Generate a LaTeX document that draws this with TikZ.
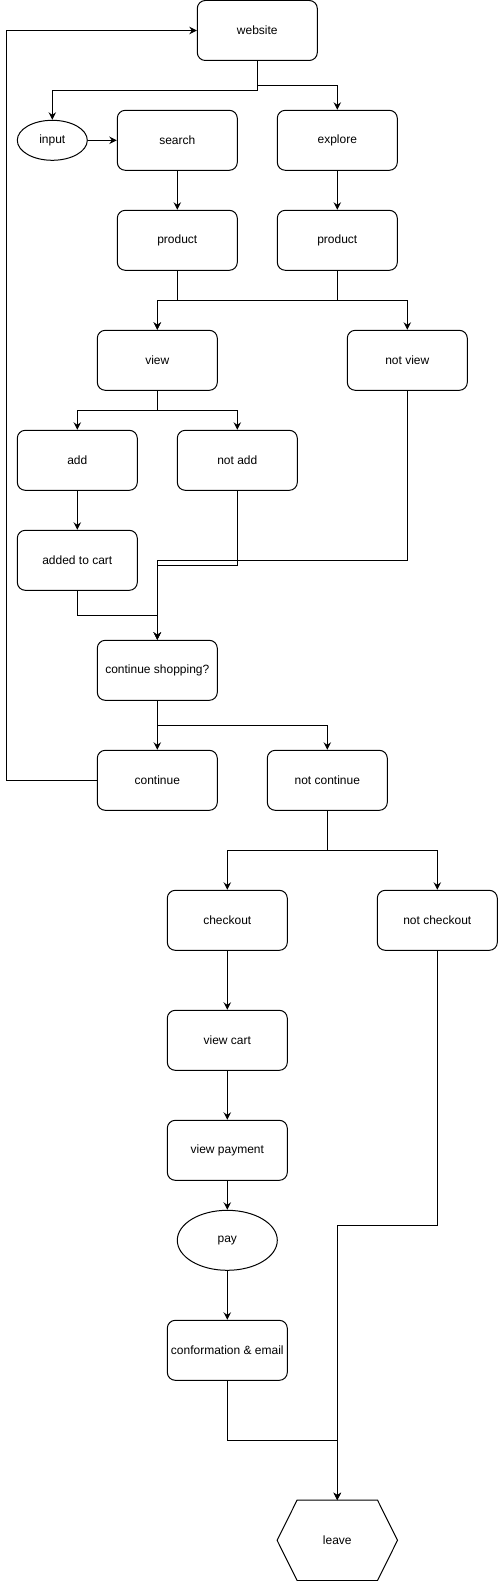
\documentclass[tikz,border=0pt]{standalone}
\usepackage{fontspec}
\setmainfont{Liberation Sans}
\usetikzlibrary{shapes.geometric,arrows.meta,calc}
\tikzset{
  box/.style={draw, line width=1pt, rounded corners=8pt, minimum width=120pt, minimum height=60pt, inner sep=0pt, font=\fontsize{12}{14}\selectfont},
  oval/.style={draw, line width=1pt, ellipse, inner sep=0pt, font=\fontsize{12}{14}\selectfont},
  plain/.style={minimum width=120pt, minimum height=80pt, inner sep=0pt, font=\fontsize{12}{14}\selectfont},
  arr/.style={line width=1pt, -{Stealth[length=7.5pt,width=7.5pt,inset=2.5pt]}},
  ln/.style={line width=1pt}
}
\begin{document}
\begin{tikzpicture}[x=1pt,y=-1pt]
\useasboundingbox (0,0) rectangle (499,1581);
\node[box] (website) at (257.3,30.5) {website};
\node[oval, minimum width=70pt, minimum height=40pt] (input) at (52.3,140.3) {input};
\node[box] (search) at (177.3,140.3) {search};
\node[box] (explore) at (337.3,140.3) {explore};
\node[box] (prod1) at (177.3,240.3) {product};
\node[box] (prod2) at (337.3,240.3) {product};
\node[box] (view) at (157.3,360.3) {view};
\node[box] (notview) at (407.3,360.3) {not view};
\node[box] (add) at (77.3,460.3) {add};
\node[box] (notadd) at (237.3,460.3) {not add};
\node[box] (cart) at (77.3,560.3) {added to cart};
\node[box] (cs) at (157.3,670.3) {continue shopping?};
\node[box] (cont) at (157.3,780.3) {continue};
\node[box] (notcont) at (327.3,780.3) {not continue};
\node[box] (checkout) at (227.3,920.3) {checkout};
\node[box] (notcheckout) at (437.3,920.3) {not checkout};
\node[box] (viewcart) at (227.3,1040.3) {view cart};
\node[box] (viewpay) at (227.3,1150.3) {view payment};
\node[oval, minimum width=100pt, minimum height=60pt] (pay) at (227.3,1240.3) {pay};
\node[box] (conf) at (227.3,1350.3) {conformation \& email};
\node[plain] (leave) at (337.3,1540.3) {leave};
\draw[ln] ($(leave.north west)+(20,0)$) -- ($(leave.north east)+(-20,0)$) -- (leave.east) -- ($(leave.south east)+(-20,0)$) -- ($(leave.south west)+(20,0)$) -- (leave.west) -- cycle;

\draw[arr] (website.south) -- ++(0,30) -| (input.north);
\draw[arr] (website.south) -- ++(0,25) -| (explore.north);
\draw[arr] (input.east) -- (search.west);
\draw[arr] (search.south) -- (prod1.north);
\draw[arr] (explore.south) -- (prod2.north);
\draw[arr] (prod1.south) -- ++(0,30) -| (view.north);
\draw[arr] (prod2.south) -- ++(0,30) -| (view.north);
\draw[arr] (prod2.south) -- ++(0,30) -| (notview.north);
\draw[arr] (view.south) -- ++(0,20) -| (add.north);
\draw[arr] (view.south) -- ++(0,20) -| (notadd.north);
\draw[arr] (add.south) -- (cart.north);
\draw[arr] (notadd.south) -- ++(0,75) -| (cs.north);
\draw[arr] (notview.south) -- ++(0,170) -| (cs.north);
\draw[arr] (cart.south) -- ++(0,25) -| (cs.north);
\draw[arr] (cs.south) -- (cont.north);
\draw[arr] (cs.south) -- ++(0,25) -| (notcont.north);
\draw[arr] (cont.west) -- ++(-90,0) |- (website.west);
\draw[arr] (notcont.south) -- ++(0,40) -| (checkout.north);
\draw[arr] (notcont.south) -- ++(0,40) -| (notcheckout.north);
\draw[arr] (checkout.south) -- (viewcart.north);
\draw[arr] (viewcart.south) -- (viewpay.north);
\draw[arr] (viewpay.south) -- (pay.north);
\draw[arr] (pay.south) -- (conf.north);
\draw[arr] (notcheckout.south) -- ++(0,275) -| (leave.north);
\draw[arr] (conf.south) -- ++(0,60) -| (leave.north);
\end{tikzpicture}
\end{document}
